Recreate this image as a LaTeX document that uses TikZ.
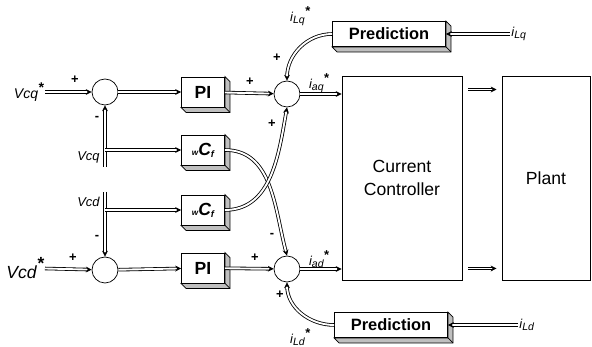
\documentclass[tikz,border=0pt]{standalone}
\usepackage{fontspec}
\setmainfont{Liberation Sans}
\usetikzlibrary{arrows.meta,positioning}

\newcommand{\wcf}{{\fontsize{7}{8}\selectfont\itshape w}{\bfseries\itshape C}{\fontsize{8}{9}\selectfont\itshape\raisebox{-0.4ex}{f}}}
\newcommand{\sigi}[1]{\textit{i}{\fontsize{9}{10}\selectfont\itshape\raisebox{-0.3ex}{#1}}}
\newcommand{\refstar}{\raisebox{0.9ex}{\bfseries *}}

\tikzset{
  sum/.style={draw, circle, minimum size=0.78cm, inner sep=0pt, line width=0.6pt},
  block3d/.style={draw, fill=white, line width=0.7pt, minimum width=1.29cm, minimum height=0.9cm,
    inner sep=1pt, font=\fontsize{15}{18}\selectfont\bfseries,
    append after command={\pgfextra{\let\blk\tikzlastnode
      \filldraw[fill=gray!50, line width=0.6pt] (\blk.north east) -- ++(0.15cm,-0.15cm)
        -- ([shift={(0.15cm,-0.15cm)}]\blk.south east) -- ([shift={(0.15cm,-0.15cm)}]\blk.south west)
        -- (\blk.south west) -- (\blk.south east) -- cycle;
      \draw[line width=0.6pt] (\blk.south east) -- ++(0.15cm,-0.15cm);}}},
  predbox/.style={minimum width=3.39cm, minimum height=0.75cm, font=\fontsize{14}{16}\selectfont\bfseries},
  bigbox/.style={draw, line width=0.8pt, minimum width=3.6cm, minimum height=6.12cm,
    align=center, font=\fontsize{15}{19}\selectfont},
  sig/.style={draw, double, double distance=1.6pt, line width=0.7pt, -{Stealth[length=5pt, width=5pt]}},
  lbl/.style={inner sep=1pt, font=\fontsize{11}{13}\selectfont\itshape},
  sgn/.style={inner sep=0pt, font=\fontsize{11}{13}\selectfont\bfseries}
}

\begin{document}
\begin{tikzpicture}[x=0.03cm, y=0.03cm]
\useasboundingbox (0,0) rectangle (592,347);

\node (sq1) [sum] at (105,255) {};
\node (sd1) [sum] at (105,77) {};
\node (sq2) [sum] at (287,253) {};
\node (sd2) [sum] at (287,78) {};

\node (piq) [block3d] at (203,255) {PI};
\node (pid) [block3d] at (203,79) {PI};
\node (wcq) [block3d] at (203,197) {\wcf};
\node (wcd) [block3d] at (203,137) {\wcf};

\node (predq) [block3d, predbox] at (389,313) {Prediction};
\node (predd) [block3d, predbox] at (391,22) {Prediction};

\node (ctrl) [bigbox] at (402,169) {Current\\Controller};
\node (plant) [bigbox, minimum width=2.64cm] at (546,169) {Plant};

% references and measured voltages
\node (vcqref) [lbl, anchor=east, font=\fontsize{12}{14}\selectfont\itshape] at (45,255) {Vcq\refstar};
\node (vcdref) [lbl, anchor=east, font=\fontsize{15}{17}\selectfont\itshape] at (45,79) {Vcd\refstar};
\coordinate (vcqfoot) at (105,180);
\coordinate (vcdtop) at (105,155);
\node (vcq) [lbl, anchor=east] at (101,190) {Vcq};
\node (vcd) [lbl, anchor=east] at (101,145) {Vcd};
\coordinate (brq) at (sq1 |- wcq.west);
\coordinate (brd) at (sd1 |- wcd.west);

\node (ilq) [lbl, anchor=west] at (510,313) {\sigi{Lq}};
\node (ild) [lbl, anchor=west] at (518,22) {\sigi{Ld}};

\draw[sig] (vcqref) -- (sq1);
\draw[sig] (vcdref) -- (sd1);
\draw[sig] (vcqfoot) -- (sq1.south);
\draw[sig] (vcdtop) -- (sd1.north);
\draw[sig] (brq) -- (wcq.west);
\draw[sig] (brd) -- (wcd.west);
\draw[sig] (sq1) -- (piq);
\draw[sig] (sd1) -- (pid);
\draw[sig] (piq) -- (sq2);
\draw[sig] (pid) -- (sd2);

% cross coupling
\draw[sig] (wcq.east) to[out=0, in=105] (sd2.north);
\draw[sig] (wcd.east) to[out=0, in=-100] (sq2.south);

% load current feed forward
\draw[sig] (predq.west) to[out=180, in=90] (sq2.north);
\draw[sig] (predd.west) to[out=180, in=-90] (sd2.south);
\draw[sig] (ilq) -- (predq.east);
\draw[sig] (ild) -- (predd.east);

\draw[sig] (sq2) -- (sq2 -| ctrl.west) node[lbl, pos=0.45, above] {\sigi{aq}\refstar};
\draw[sig] (sd2) -- (sd2 -| ctrl.west) node[lbl, pos=0.45, above] {\sigi{ad}\refstar};
\draw[sig, shorten <=0.18cm, shorten >=0.15cm] ([yshift=-0.42cm]ctrl.north east) -- ([yshift=-0.42cm]plant.north west);
\draw[sig, shorten <=0.18cm, shorten >=0.15cm] ([yshift=0.36cm]ctrl.south east) -- ([yshift=0.36cm]plant.south west);

\node (ilqref) [lbl] at (300,331) {\sigi{Lq}\refstar};
\node (ildref) [lbl] at (300,10) {\sigi{Ld}\refstar};

% signs at the summing points
\node [sgn] at (75,267) {+};
\node [sgn] at (97,229) {-};
\node [sgn] at (250,265) {+};
\node [sgn] at (277,289) {+};
\node [sgn] at (272,223) {+};
\node [sgn] at (73,89) {+};
\node [sgn] at (97,110) {-};
\node [sgn] at (255,89) {+};
\node [sgn] at (272,112) {-};
\node [sgn] at (280,52) {+};
\end{tikzpicture}
\end{document}
